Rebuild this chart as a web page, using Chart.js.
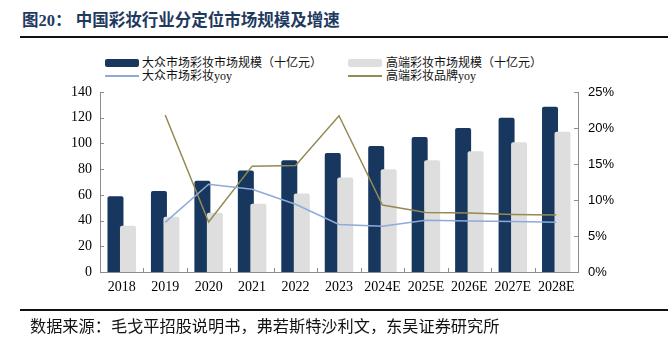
<!DOCTYPE html>
<html><head><meta charset="utf-8">
<script src="https://cdn.jsdelivr.net/npm/chart.js@4.4.0/dist/chart.umd.min.js"></script>
<style>
html,body{margin:0;padding:0;background:#fff;width:671px;height:349px;overflow:hidden;}
#wrap{position:relative;width:671px;height:349px;}
canvas{position:absolute;left:0;top:0;}
.title{position:absolute;left:22px;top:11px;font-family:"Liberation Serif","Noto Sans CJK SC";font-weight:bold;font-size:16.5px;color:#1f3a5f;white-space:nowrap;line-height:20px;}
.rule{position:absolute;left:20px;width:648px;height:2px;background:#111;}
.src{position:absolute;left:30px;top:318px;font-family:"Liberation Serif","Noto Sans CJK SC";font-size:16.2px;color:#111;white-space:nowrap;line-height:19px;}
.leg{position:absolute;font-family:"Liberation Serif","Noto Sans CJK SC";font-size:12px;color:#111;white-space:nowrap;line-height:14px;}
.box{position:absolute;width:34px;height:8px;border-radius:2px;}
.ln{position:absolute;width:34px;height:2px;}
</style></head>
<body><div id="wrap">
<div class="title">图20：&nbsp;中国彩妆行业分定位市场规模及增速</div>
<div class="rule" style="top:36px"></div>
<div class="box" style="left:105px;top:59px;background:#17375e"></div>
<div class="leg" style="left:142px;top:56px">大众市场彩妆市场规模（十亿元）</div>
<div class="box" style="left:348px;top:59px;background:#dedede"></div>
<div class="leg" style="left:386px;top:56px">高端彩妆市场规模（十亿元）</div>
<div class="ln" style="left:105px;top:75px;background:#8eaadb"></div>
<div class="leg" style="left:142px;top:69px">大众市场彩妆yoy</div>
<div class="ln" style="left:348px;top:75px;background:#948a54"></div>
<div class="leg" style="left:386px;top:69px">高端彩妆品牌yoy</div>
<canvas id="c" width="671" height="349"></canvas>
<div class="rule" style="top:309px"></div>
<div class="src">数据来源：毛戈平招股说明书，弗若斯特沙利文，东吴证券研究所</div>
</div>
<script>
const categories = ['2018','2019','2020','2021','2022','2023','2024E','2025E','2026E','2027E','2028E'];
const massMarket = [59, 63, 71, 79, 87, 92.5, 98, 105, 112, 120, 128.5];
const premiumMarket = [36, 43, 46, 53, 61, 73.5, 80, 87, 94, 101, 109];
const massYoy = [null, 6.9, 12.2, 11.5, 9.4, 6.6, 6.35, 7.2, 7.1, 7.0, 6.9];
const premiumYoy = [null, 21.8, 6.95, 14.7, 14.8, 21.7, 9.3, 8.25, 8.2, 8.0, 7.9];
const leftTicks = [0, 20, 40, 60, 80, 100, 120, 140];
const rightTicks = [0, 5, 10, 15, 20, 25];

const AXIS = '#8c8c8c';
const drawOrder = {
  id: 'drawOrder',
  beforeDatasetDraw(chart, args) { if (args.index === 1) return false; },
  afterDatasetDraw(chart, args) {
    if (args.index === 0) { chart.getDatasetMeta(1).controller.draw(); }
  }
};
const innerTicks = {
  id: 'innerTicks',
  afterDraw(chart) {
    const ctx = chart.ctx, a = chart.chartArea;
    const y = chart.scales.y, y1 = chart.scales.y1, x = chart.scales.x;
    ctx.save();
    ctx.strokeStyle = AXIS; ctx.lineWidth = 1;
    ctx.beginPath();
    y.ticks.forEach((t, i) => { const p = Math.round(y.getPixelForTick(i)) + 0.5; ctx.moveTo(a.left, p); ctx.lineTo(a.left + 4, p); });
    y1.ticks.forEach((t, i) => { const p = Math.round(y1.getPixelForTick(i)) + 0.5; ctx.moveTo(a.right, p); ctx.lineTo(a.right - 4, p); });
    const n = categories.length;
    for (let i = 0; i <= n; i++) {
      const p = Math.round(x.getPixelForValue(i - 0.5)) + 0.5;
      ctx.moveTo(p, a.bottom); ctx.lineTo(p, a.bottom - 4);
    }
    ctx.stroke();
    ctx.restore();
  }
};

new Chart(document.getElementById('c'), {
  data: {
    labels: categories,
    datasets: [
      { type: 'bar', label: '大众市场彩妆市场规模（十亿元）', data: massMarket, backgroundColor: '#17375e', yAxisID: 'y', order: 1,
        categoryPercentage: 0.575, barPercentage: 1.28, borderRadius: 2, borderSkipped: 'start' },
      { type: 'bar', label: '高端彩妆市场规模（十亿元）', data: premiumMarket, backgroundColor: '#dedede', yAxisID: 'y', order: 2,
        categoryPercentage: 0.575, barPercentage: 1.28, borderRadius: 2, borderSkipped: 'start' },
      { type: 'line', label: '大众市场彩妆yoy', data: massYoy, borderColor: '#8eaadb', borderWidth: 1.5, pointRadius: 0, tension: 0, yAxisID: 'y1', order: 0, spanGaps: false },
      { type: 'line', label: '高端彩妆品牌yoy', data: premiumYoy, borderColor: '#948a54', borderWidth: 1.5, pointRadius: 0, tension: 0, yAxisID: 'y1', order: 0, spanGaps: false }
    ]
  },
  options: {
    responsive: false, animation: false,
    layout: { padding: { left: 0, right: 0, top: 92, bottom: 47 } },
    plugins: { legend: { display: false }, tooltip: { enabled: false } },
    scales: {
      x: {
        offset: true,
        grid: { display: false, drawTicks: false },
        border: { display: true, color: AXIS },
        ticks: { color: '#000', font: { family: 'Liberation Serif', size: 14 }, padding: 7, maxRotation: 0, autoSkip: false },
        afterFit(s) { s.height = 30; }
      },
      y: {
        position: 'left', min: 0, max: 140,
        afterBuildTicks(s) { s.ticks = leftTicks.map(v => ({ value: v })); },
        grid: { display: false, drawTicks: false },
        border: { display: true, color: AXIS },
        ticks: { color: '#000', font: { family: 'Liberation Serif', size: 14 }, padding: 8 },
        afterFit(s) { s.width = 100; }
      },
      y1: {
        position: 'right', min: 0, max: 25,
        afterBuildTicks(s) { s.ticks = rightTicks.map(v => ({ value: v })); },
        grid: { display: false, drawTicks: false },
        border: { display: true, color: AXIS },
        ticks: { color: '#000', font: { family: 'Liberation Sans', size: 13 }, padding: 10, callback: v => v + '%' },
        afterFit(s) { s.width = 93; }
      }
    }
  },
  plugins: [drawOrder, innerTicks]
});
</script>
</body></html>
